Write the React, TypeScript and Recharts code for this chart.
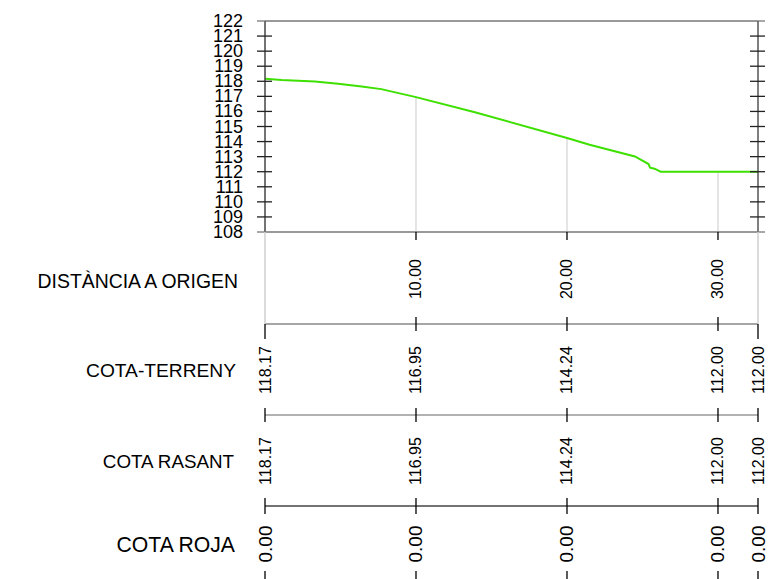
import React from 'react';
import { LineChart, Line, XAxis, YAxis, ReferenceLine } from 'recharts';

// ---- data ----
const distances = [0, 1.1, 3.3, 4.85, 6.4, 7.7, 10, 13.9, 20, 21.5, 24.5, 25.4, 25.5, 25.8, 26.2, 30, 32.65];
const elevations = [118.17, 118.09, 117.98, 117.83, 117.65, 117.48, 116.95, 115.95, 114.24, 113.79, 113.01, 112.51, 112.27, 112.2, 112.0, 112.0, 112.0];

const stations = [0, 10, 20, 30, 32.65];
const distanceLabels = ['', '10.00', '20.00', '30.00', ''];
const terrenyLabels = ['118.17', '116.95', '114.24', '112.00', '112.00'];
const rasantLabels = ['118.17', '116.95', '114.24', '112.00', '112.00'];
const rojaLabels = ['0.00', '0.00', '0.00', '0.00', '0.00'];

const gridStations = [10, 20, 30];
const gridElevations = [116.95, 114.24, 112.0];

const yTicks = [108, 109, 110, 111, 112, 113, 114, 115, 116, 117, 118, 119, 120, 121, 122];
const yMin = 108;
const yMax = 122;
const xMax = 32.65;

const data = distances.map((d, i) => ({ d, z: elevations[i] }));

const FONT = '"Liberation Sans", Arial, Helvetica, sans-serif';

const stIndex = (v: number) => stations.indexOf(v);
const isEnd = (v: number) => v === stations[0] || v === stations[stations.length - 1];

function LeftYTick(props: any) {
  const { x, y, payload } = props;
  const edge = payload.value === yMin || payload.value === yMax;
  return (
    <g>
      <line x1={x - 8} x2={edge ? x : x + 7} y1={y} y2={y} stroke={edge ? '#777' : '#222'} strokeWidth={1.3} />
      <text x={x - 22} y={y} textAnchor="end" dominantBaseline="central" fontSize={18} fontFamily={FONT} fill="#000">
        {payload.value}
      </text>
    </g>
  );
}

function RightYTick(props: any) {
  const { x, y, payload } = props;
  const edge = payload.value === yMin || payload.value === yMax;
  return (
    <line x1={edge ? x : x - 8} x2={x + 7} y1={y} y2={y} stroke={edge ? '#777' : '#222'} strokeWidth={1.3} />
  );
}

function RotLabel({ x, cy, text, size }: { x: number; cy: number; text: string; size: number }) {
  return (
    <text
      x={x}
      y={cy}
      transform={`rotate(-90 ${x} ${cy})`}
      textAnchor="middle"
      dominantBaseline="central"
      fontSize={size}
      fontFamily={FONT}
      fill="#000"
    >
      {text}
    </text>
  );
}

function DistTick(props: any) {
  const { x, y, payload } = props;
  const i = stIndex(payload.value);
  if (isEnd(payload.value)) {
    return <line x1={x} x2={x} y1={y} y2={y + 92} stroke="#cfcfcf" strokeWidth={1.5} />;
  }
  return (
    <g>
      <line x1={x} x2={x} y1={y} y2={y + 8} stroke="#000" strokeWidth={1.3} />
      <RotLabel x={x} cy={y + 47} text={distanceLabels[i]} size={16} />
    </g>
  );
}

function TerrTick(props: any) {
  const { x, y, payload } = props;
  const i = stIndex(payload.value);
  const end = isEnd(payload.value);
  return (
    <g>
      <line x1={x} x2={x} y1={end ? y : y - 7} y2={end ? y + 15 : y + 7} stroke="#000" strokeWidth={1.3} />
      <RotLabel x={x} cy={y + 46} text={terrenyLabels[i]} size={16} />
    </g>
  );
}

function RasTick(props: any) {
  const { x, y, payload } = props;
  const i = stIndex(payload.value);
  return (
    <g>
      <line x1={x} x2={x} y1={y - 7} y2={y + 7} stroke="#000" strokeWidth={1.3} />
      <RotLabel x={x} cy={y + 46} text={rasantLabels[i]} size={16} />
    </g>
  );
}

function RojaTick(props: any) {
  const { x, y, payload } = props;
  const i = stIndex(payload.value);
  return (
    <g>
      <line x1={x} x2={x} y1={y - 8} y2={y + 8} stroke="#000" strokeWidth={1.3} />
      <RotLabel x={x} cy={y + 38} text={rojaLabels[i]} size={19} />
      <line x1={x} x2={x} y1={y + 65} y2={y + 76} stroke="#000" strokeWidth={1.3} />
    </g>
  );
}

const bandLabel = (value: string, offset: number, size: number, dy: number) => ({
  value,
  position: 'left' as const,
  offset,
  dy,
  fontSize: size,
  fill: '#000',
  fontFamily: FONT,
});

const commonX = {
  dataKey: 'd',
  type: 'number' as const,
  domain: [0, xMax],
  ticks: stations,
  interval: 0 as const,
  tickSize: 0,
  tickMargin: 0,
  tickLine: false,
  allowDataOverflow: true,
};

export default function App() {
  return (
    <div style={{ position: 'absolute', left: 0, top: 0, width: 779, height: 579, background: '#fff' }}>
      <LineChart width={779} height={579} data={data} margin={{ top: 21, right: 11, bottom: 0, left: 205 }}>
        <YAxis
          yAxisId="left"
          orientation="left"
          width={60}
          type="number"
          domain={[yMin, yMax]}
          ticks={yTicks}
          interval={0}
          tickSize={0}
          tickMargin={0}
          tickLine={false}
          tick={LeftYTick}
          axisLine={{ stroke: '#444', strokeWidth: 1.5 }}
          allowDataOverflow
        />
        <YAxis
          yAxisId="right"
          orientation="right"
          width={10}
          type="number"
          domain={[yMin, yMax]}
          ticks={yTicks}
          interval={0}
          tickSize={0}
          tickMargin={0}
          tickLine={false}
          tick={RightYTick}
          axisLine={{ stroke: '#555', strokeWidth: 1.5 }}
          allowDataOverflow
        />
        <XAxis
          {...commonX}
          xAxisId="x1dist"
          height={92}
          tick={DistTick}
          axisLine={{ stroke: '#777', strokeWidth: 1.5 }}
          label={bandLabel('DISTÀNCIA A ORIGEN', 27, 19.4, 3)}
        />
        <XAxis
          {...commonX}
          xAxisId="x2terr"
          height={91}
          tick={TerrTick}
          axisLine={{ stroke: '#888', strokeWidth: 1.3 }}
          label={bandLabel('COTA-TERRENY', 29, 19.2, 1)}
        />
        <XAxis
          {...commonX}
          xAxisId="x3ras"
          height={91}
          tick={RasTick}
          axisLine={{ stroke: '#999', strokeWidth: 1.3 }}
          label={bandLabel('COTA RASANT', 31, 18.8, 1)}
        />
        <XAxis
          {...commonX}
          xAxisId="x4roja"
          height={73}
          tick={RojaTick}
          axisLine={{ stroke: '#444', strokeWidth: 1.5 }}
          label={bandLabel('COTA ROJA', 30, 21.2, 2)}
        />
        <ReferenceLine xAxisId="x1dist" yAxisId="left" y={yMax} stroke="#777" strokeWidth={1.5} />
        {gridStations.map((s, i) => (
          <ReferenceLine
            key={s}
            xAxisId="x1dist"
            yAxisId="left"
            segment={[
              { x: s, y: yMin },
              { x: s, y: gridElevations[i] },
            ]}
            stroke="#dcdcdc"
            strokeWidth={1.5}
          />
        ))}
        <Line
          xAxisId="x1dist"
          yAxisId="left"
          type="linear"
          dataKey="z"
          stroke="#3ee000"
          strokeWidth={2}
          dot={false}
          isAnimationActive={false}
        />
      </LineChart>
    </div>
  );
}
